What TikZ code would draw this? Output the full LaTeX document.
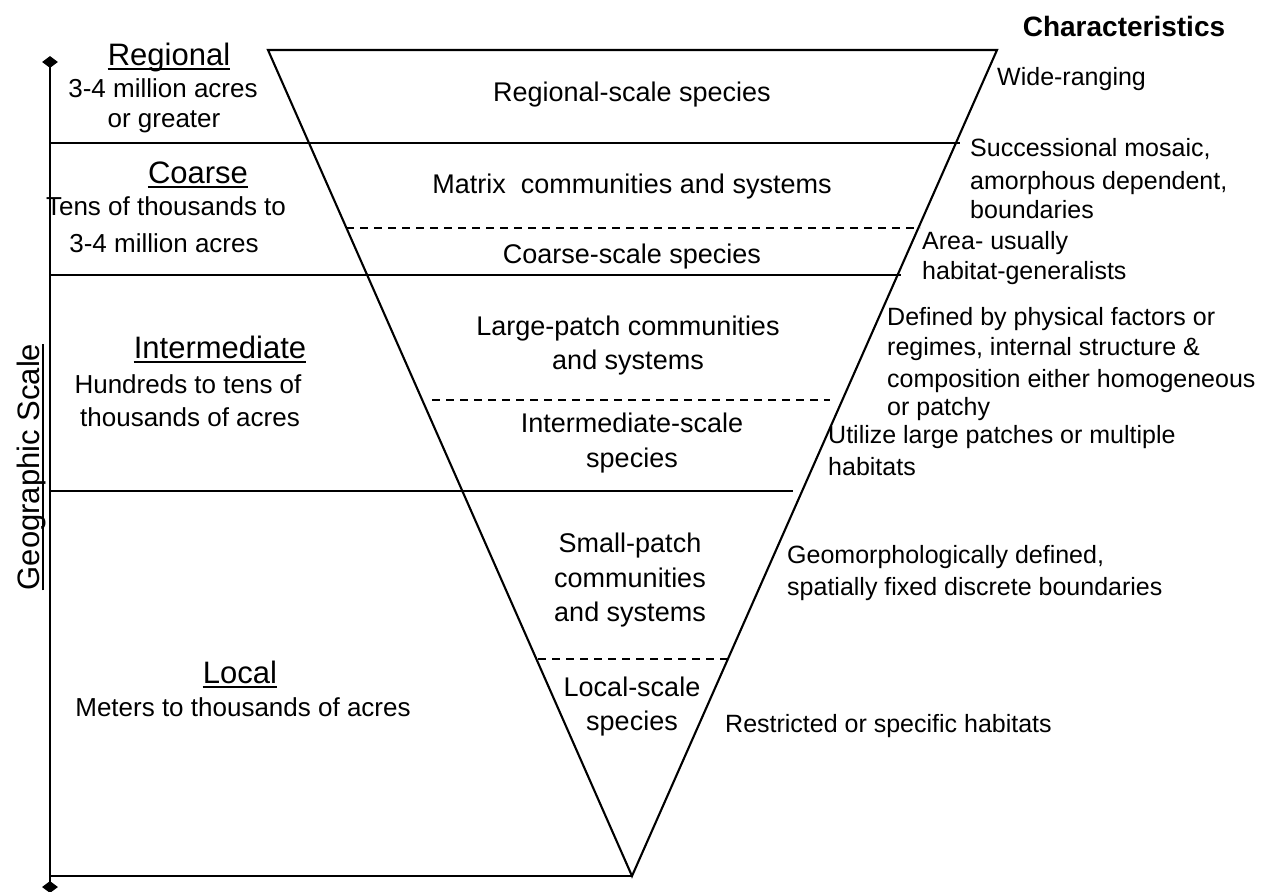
\documentclass[tikz,border=0pt]{standalone}
\usepackage{fontspec}
\setmainfont{Liberation Sans}
\usetikzlibrary{shapes.geometric}
\begin{document}
\begin{tikzpicture}[x=1pt,y=-1pt,
  ln/.style={line width=2.1pt},
  dsh/.style={line width=2.1pt, dash pattern=on 8pt off 6pt},
  lefttxt/.style={anchor=base, inner sep=0pt, font=\fontsize{26}{30}\selectfont},
  head/.style={anchor=base, inner sep=0pt, font=\fontsize{31}{36}\selectfont},
  ctr/.style={anchor=base, inner sep=0pt, font=\fontsize{27}{32}\selectfont},
  rgt/.style={anchor=base west, inner sep=0pt, font=\fontsize{25}{30}\selectfont},
  tipmark/.style={diamond, fill=black, inner sep=0pt, minimum width=16pt, minimum height=12pt},
  uline/.style={line width=2.2pt}
]
\useasboundingbox (0,0) rectangle (1273,891);

% triangle
\coordinate (tl) at (268,50);
\coordinate (tr) at (997,50);
\coordinate (apex) at (632,876);
\draw[ln, line join=miter] (tl) -- (tr) -- (apex) -- cycle;

% axis
\node[tipmark] (atop) at (50,62) {};
\node[tipmark] (abot) at (50,887) {};
\draw[ln] (atop.center) -- (abot.center);

% horizontal lines
\coordinate (h1a) at (50,143); \coordinate (h1b) at (960,143);
\coordinate (h2a) at (50,275); \coordinate (h2b) at (901,275);
\coordinate (h3a) at (50,491); \coordinate (h3b) at (793,491);
\coordinate (h4a) at (50,876);
\draw[ln] (h1a) -- (h1b);
\draw[ln] (h2a) -- (h2b);
\draw[ln] (h3a) -- (h3b);
\draw[ln] (h4a) -- (apex);

% dashed lines
\coordinate (d1a) at (346,228); \coordinate (d1b) at (920,228);
\coordinate (d2a) at (432,400); \coordinate (d2b) at (830,400);
\coordinate (d3a) at (538,659); \coordinate (d3b) at (727,659);
\draw[dsh] (d1a) -- (d1b);
\draw[dsh] (d2a) -- (d2b);
\draw[dsh] (d3a) -- (d3b);

% left labels
\node[head] (reg) at (169,65) {Regional};
\draw[uline] ([yshift=-4pt]reg.base west) -- ([yshift=-4pt]reg.base east);
\node[lefttxt] (reg1) at (163,97) {3-4 million acres};
\node[lefttxt] (reg2) at (164,127) {or greater};

\node[head] (coa) at (198,183) {Coarse};
\draw[uline] ([yshift=-4pt]coa.base west) -- ([yshift=-4pt]coa.base east);
\node[lefttxt] (coa1) at (166,215) {Tens of thousands to};
\node[lefttxt] (coa2) at (164,252) {3-4 million acres};

\node[head] (int) at (220,358) {Intermediate};
\draw[uline] ([yshift=-4pt]int.base west) -- ([yshift=-4pt]int.base east);
\node[lefttxt] (int1) at (188,393) {Hundreds to tens of};
\node[lefttxt] (int2) at (190,426) {thousands of acres};

\node[head] (loc) at (240,683) {Local};
\draw[uline] ([yshift=-4pt]loc.base west) -- ([yshift=-4pt]loc.base east);
\node[lefttxt] (loc1) at (243,716) {Meters to thousands of acres};

\node[head, rotate=90] (geo) at (39,467) {Geographic Scale};
\draw[uline] ([xshift=4pt]geo.base west) -- ([xshift=4pt]geo.base east);

% center labels
\node[ctr] (c1) at (632,101) {Regional-scale species};
\node[ctr] (c2) at (632,193) {Matrix\ \ communities and systems};
\node[ctr] (c3) at (632,263) {Coarse-scale species};
\node[ctr] (c4) at (628,335) {Large-patch communities};
\node[ctr] (c5) at (628,369) {and systems};
\node[ctr] (c6) at (632,432) {Intermediate-scale};
\node[ctr] (c7) at (632,467) {species};
\node[ctr] (c8) at (630,552) {Small-patch};
\node[ctr] (c9) at (630,587) {communities};
\node[ctr] (c10) at (630,621) {and systems};
\node[ctr] (c11) at (632,696) {Local-scale};
\node[ctr] (c12) at (632,730) {species};

% characteristics
\node[anchor=base, inner sep=0pt, font=\bfseries\fontsize{28}{32}\selectfont] (char) at (1124,37) {Characteristics};
\node[rgt] (r1) at (997,85) {Wide-ranging};
\node[rgt] (r2) at (970,156) {Successional mosaic,};
\node[rgt] (r3) at (970,189) {amorphous dependent,};
\node[rgt] (r4) at (970,218) {boundaries};
\node[rgt] (r5) at (922,249) {Area- usually};
\node[rgt] (r6) at (922,279) {habitat-generalists};
\node[rgt] (r7) at (887,325) {Defined by physical factors or};
\node[rgt] (r8) at (887,355) {regimes, internal structure \&};
\node[rgt] (r9) at (887,387) {composition either homogeneous};
\node[rgt] (r10) at (887,415) {or patchy};
\node[rgt] (r11) at (828,443) {Utilize large patches or multiple};
\node[rgt] (r12) at (828,475) {habitats};
\node[rgt] (r13) at (787,563) {Geomorphologically defined,};
\node[rgt] (r14) at (787,595) {spatially fixed discrete boundaries};
\node[rgt] (r15) at (725,732) {Restricted or specific habitats};
\end{tikzpicture}
\end{document}
